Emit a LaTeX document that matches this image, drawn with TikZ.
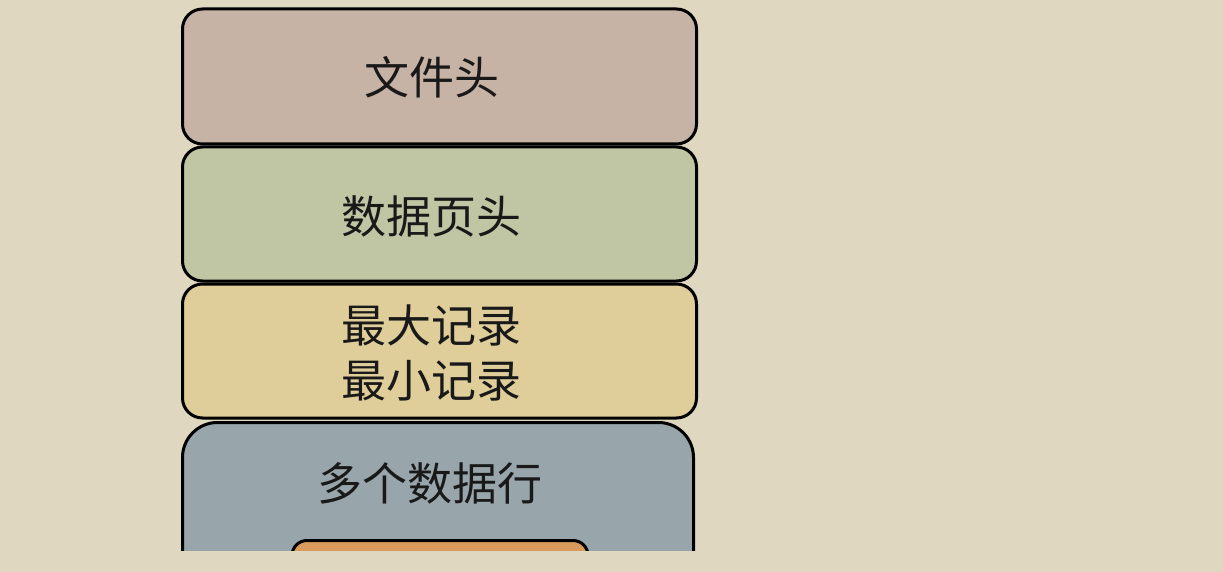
\documentclass[tikz,border=0pt]{standalone}
\usepackage{fontspec}
\newfontfamily\cjk{Noto Sans CJK SC}
\definecolor{bg}{HTML}{DFD7BF}
\definecolor{fileheadcol}{HTML}{C7B3A6}
\definecolor{pageheadcol}{HTML}{C0C6A3}
\definecolor{minmaxcol}{HTML}{DFCE9A}
\definecolor{rowscol}{HTML}{98A6AB}
\definecolor{rowcol}{HTML}{D99A5C}
\tikzset{
  box/.style={draw=black, line width=3pt, rounded corners=20pt, minimum width=514pt, inner sep=0pt},
  label text/.style={font=\cjk\fontsize{45}{55}\selectfont, align=center, text=black!90, xshift=-8pt}
}
\begin{document}
\begin{tikzpicture}[x=1pt,y=-1pt]
\fill[bg] (0,0) rectangle (1223,572);
\useasboundingbox (0,0) rectangle (1223,572);
\node[box, fill=fileheadcol, minimum height=135pt, label={[label text, yshift=-1pt]center:文件头}] (filehead) at (439.5,76.5) {};
\node[box, fill=pageheadcol, minimum height=134pt, label={[label text, yshift=-2pt]center:数据页头}] (pagehead) at (439.5,214) {};
\node[box, fill=minmaxcol, minimum height=134pt, label={[label text, yshift=-2pt]center:最大记录\\最小记录}] (minmax) at (439.5,351) {};
\begin{scope}
\clip (0,0) rectangle (1223,550);
\node[box, fill=rowscol, rounded corners=35pt, minimum width=511pt, minimum height=240pt, anchor=north] (rows) at (438,421) {};
\node[label text] (rowstitle) at (438,483) {多个数据行};
\node[box, fill=rowcol, rounded corners=15pt, minimum width=296pt, minimum height=60pt, anchor=north] (row) at (440,539) {};
\end{scope}
\end{tikzpicture}
\end{document}
